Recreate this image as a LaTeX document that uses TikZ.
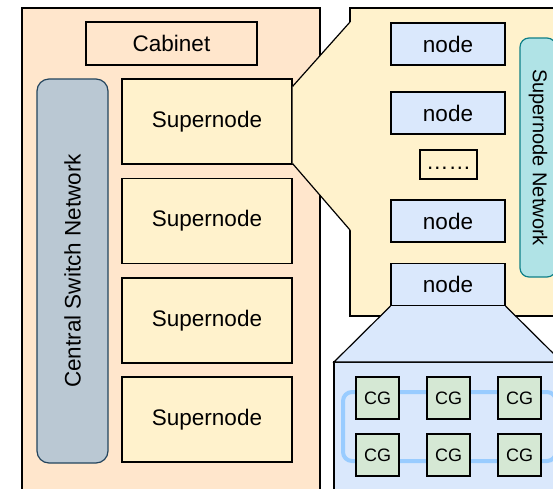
\documentclass[tikz,border=0pt]{standalone}
\usepackage{fontspec}
\setmainfont{Liberation Sans}
\usetikzlibrary{positioning}

\definecolor{cabinetbg}{HTML}{FFE6CC}
\definecolor{snfill}{HTML}{FFF2CC}
\definecolor{nodefill}{HTML}{DAE8FC}
\definecolor{cgfill}{HTML}{D5E8D4}
\definecolor{switchfill}{HTML}{BAC8D3}
\definecolor{switchline}{HTML}{23445D}
\definecolor{netfill}{HTML}{B0E3E6}
\definecolor{netline}{HTML}{0E8088}
\definecolor{ringblue}{HTML}{99CCFF}

\tikzset{
  blk/.style={draw=black,line width=1.2pt,inner sep=0pt,font=\fontsize{22.5}{26}\selectfont},
  snode/.style={blk,fill=snfill,minimum width=170pt,minimum height=85pt},
  cnode/.style={blk,fill=nodefill,minimum width=114pt,minimum height=42pt},
  cgbox/.style={blk,fill=cgfill,minimum width=43pt,minimum height=42pt,font=\fontsize{18}{21}\selectfont},
}

\begin{document}
\begin{tikzpicture}[x=1pt,y=-1pt]
\clip (0,0) rectangle (553,488);
\fill[white] (0,0) rectangle (553,488);

% cabinet
\draw[line width=1.2pt,fill=cabinetbg] (22,8) rectangle (320,520);
\node[blk,minimum width=171pt,minimum height=43pt] (cab) at (171.5,43.5) {Cabinet};

\node[blk,draw=switchline,fill=switchfill,rounded corners=12pt,rotate=90,
      minimum width=384pt,minimum height=71pt] (csn) at (72.5,271) {Central Switch Network};

\node[snode] (sn1) at (207,121.5) {Supernode};
\node[snode] (sn2) at (207,221)   {Supernode};
\node[snode] (sn3) at (207,320.5) {Supernode};
\node[snode] (sn4) at (207,419.5) {Supernode};

% supernode zoom
\draw[line width=1.2pt,fill=snfill] (350,8) rectangle (580,316);
\coordinate (zt) at (350,22);
\coordinate (zb) at (350,230);
\fill[snfill] ([yshift=-8pt]sn1.north east) -- (zt) -- ([xshift=1pt]zt) -- ([xshift=1pt]zb) -- (zb) -- ([yshift=1pt]sn1.south east) -- cycle;
\draw[line width=1.2pt] ([yshift=-8pt]sn1.north east) -- (zt);
\draw[line width=1.2pt] ([yshift=1pt]sn1.south east) -- (zb);

\node[cnode] (n1) at (448,44)  {node};
\node[cnode] (n2) at (448,113) {node};
\node[blk,fill=snfill,minimum width=57pt,minimum height=29pt] (dots) at (448.5,164.5) {\strut……};
\node[cnode] (n3) at (448,221) {node};

\node[blk,draw=netline,fill=netfill,rounded corners=9pt,rotate=-90,font=\fontsize{20}{24}\selectfont,
      minimum width=239pt,minimum height=36pt] (snnet) at (538,157.5) {Supernode Network};

% node zoom
\coordinate (bl) at (334,362);
\coordinate (br) at (562,362);
\draw[line width=1.2pt,fill=nodefill] (bl) rectangle (600,520);
\node[cnode] (n4) at (448,284.5) {node};
\draw[line width=1.2pt,fill=nodefill] (n4.south west) -- (bl) -- (br) -- (n4.south east);

\draw[ringblue,line width=4pt,rounded corners=9pt] (343,392) rectangle (556,461);

\node[cgbox] (cg1) at (377.5,398) {CG};
\node[cgbox] (cg2) at (448.5,398) {CG};
\node[cgbox] (cg3) at (519.5,398) {CG};
\node[cgbox] (cg4) at (377.5,455) {CG};
\node[cgbox] (cg5) at (448.5,455) {CG};
\node[cgbox] (cg6) at (519.5,455) {CG};
\end{tikzpicture}
\end{document}
